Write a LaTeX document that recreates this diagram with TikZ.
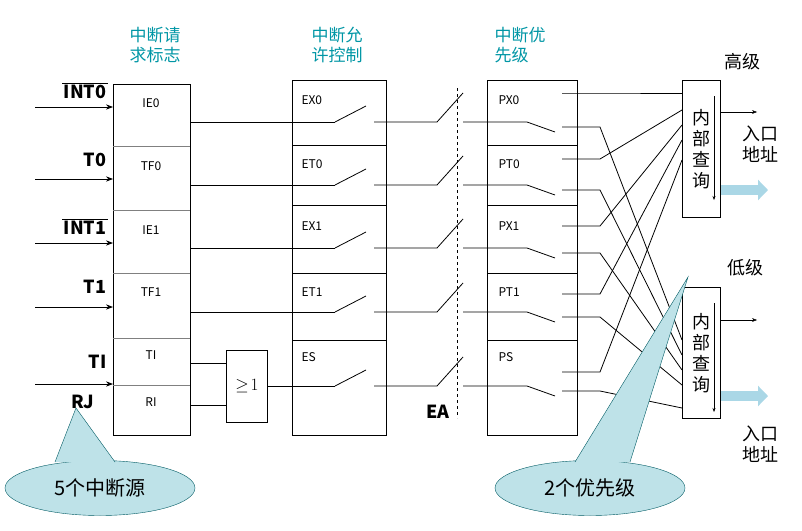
\documentclass[tikz,border=0pt]{standalone}
\usepackage{fontspec}
\setmainfont{Noto Sans CJK SC}
\usetikzlibrary{shapes, arrows.meta, positioning, calc}
\definecolor{headteal}{RGB}{0, 150, 165}
\definecolor{calloutblue}{RGB}{190, 226, 232}
\definecolor{fatblue}{RGB}{170, 215, 230}
\begin{document}
\begin{tikzpicture}[x=1pt, y=-1pt,
    reg/.style={rectangle, draw, thick, anchor=north west, inner sep=0pt},
    field/.style={font=\fontsize{12}{13}\selectfont},
    head/.style={font=\fontsize{17}{20}\selectfont, text=headteal, align=left},
    src/.style={font=\fontsize{18}{18}\selectfont\bfseries},
    wire/.style={line width=0.8pt},
    inarrow/.style={-{Stealth[length=7pt]}, thick},
    fat/.style={-{Triangle[width=20pt, length=10pt]}, line width=10pt, fatblue},
    callout/.style={ellipse, draw=headteal!60!black, fill=calloutblue, minimum width=190pt, minimum height=55pt, font=\fontsize{20}{22}\selectfont}
]
    \useasboundingbox (0,0) rectangle (802,530);

    % headings
    \node[head] (h1) at (155,45) {中断请\\求标志};
    \node[head] (h2) at (337,45) {中断允\\许控制};
    \node[head] (h3) at (520,45) {中断优\\先级};

    % request flag register
    \node[reg, minimum width=77pt, minimum height=351pt] (flag) at (113,84) {};
    \foreach \y in {146,210,273,338,385} \draw[gray] (113,\y) -- (190,\y);
    \foreach \t/\y in {IE0/103,TF0/166,IE1/230,TF1/292,TI/355,RI/402}
        \node[field] at (151,\y) {\t};

    % interrupt sources
    \foreach \n/\t/\y/\ly in {s1/INT0/107/92,s2/T0/179/160,s3/INT1/243/228,s4/T1/307/287,s5/TI/384/362} {
        \coordinate (\n) at (35,\y);
        \draw[inarrow] (\n) -- (flag.west |- \n);
        \node[src, anchor=east] (\n lbl) at (110,\ly) {\t};
    }
    \draw[thick] ([xshift=2pt, yshift=-2pt]s1lbl.north west) -- ([xshift=-2pt, yshift=-2pt]s1lbl.north east);
    \draw[thick] ([xshift=2pt, yshift=-2pt]s3lbl.north west) -- ([xshift=-2pt, yshift=-2pt]s3lbl.north east);
    \node[src, anchor=east] at (98,402) {RJ};

    % OR gate
    \node[reg, minimum width=41pt, minimum height=72pt, font=\fontsize{16}{16}\selectfont, anchor=center] (orgate) at (247,386) {$\geq\!1$};
    \draw[wire] (190,363) -- (orgate.west |- 0,363);
    \draw[wire] (190,405) -- (orgate.west |- 0,405);

    % enable register
    \node[reg, minimum width=94pt, minimum height=355pt] (enable) at (292,80) {};
    \foreach \y in {145,205,273,340} \draw (292,\y) -- (386,\y);
    \foreach \t/\y in {EX0/100,ET0/164,EX1/226,ET1/292,ES/357}
        \node[field, anchor=west] at (298,\y) {\t};

    % priority register
    \node[reg, minimum width=90pt, minimum height=355pt] (prio) at (487,80) {};
    \foreach \y in {145,205,273,340} \draw (487,\y) -- (577,\y);
    \foreach \t/\y in {PX0/100,PT0/164,PX1/226,PT1/292,PS/357}
        \node[field, anchor=west] at (495,\y) {\t};

    % EA
    \draw[dashed] (457,88) -- (457,418);
    \node[src] (ea) at (438,412) {EA};

    % query boxes
    \node[reg, minimum width=38pt, minimum height=137pt, align=center, font=\fontsize{18}{21}\selectfont] (hiq) at (682,80) {内\\部\\查\\询};
    \node[reg, minimum width=38pt, minimum height=131pt, align=center, font=\fontsize{18}{21}\selectfont] (loq) at (682,287) {内\\部\\查\\询};
    \draw[-{Stealth[length=4pt]}] (714,96) -- (714,200);
    \draw[-{Stealth[length=4pt]}] (714,303) -- (714,412);
    \coordinate (hiout) at (757,112);
    \coordinate (loout) at (757,320);
    \draw[-{Stealth[length=5pt]}] (hiq.east |- hiout) -- (hiout);
    \draw[-{Stealth[length=5pt]}] (loq.east |- loout) -- (loout);
    \coordinate (hifat) at (768,190);
    \coordinate (lofat) at (768,396);
    \draw[fat] (hiq.east |- hifat) -- (hifat);
    \draw[fat] (loq.east |- lofat) -- (lofat);
    \node[font=\fontsize{18}{20}\selectfont] at (742,62) {高级};
    \node[font=\fontsize{18}{20}\selectfont] at (745,268) {低级};
    \node[font=\fontsize{18}{21}\selectfont, align=center] at (760,144) {入口\\地址};
    \node[font=\fontsize{18}{21}\selectfont, align=center] at (760,444) {入口\\地址};

    % signal paths with switches
    \foreach \r/\h/\hy/\ly in {122/93/93/340,185/159/110/355,248/226/125/370,312/294/140/385,386/372/160/408} {
        \draw[wire] (335,\r) -- (366,\r-16);
        \draw[wire] (374,\r) -- (437,\r) -- (463,\r-29);
        \draw[wire] (463,\r) -- (527,\r) -- (555,\r+10);
        \draw[wire] (562,\h) -- (600,\h) -- (hiq.west |- 0,\hy);
        \draw[wire] (562,\r+5) -- (600,\r+5) -- (loq.west |- 0,\ly);
    }
    \foreach \r in {122,185,248,312} \draw[wire] (190,\r) -- (335,\r);
    \draw[wire] (orgate.east) -- (335,386);

    % callouts
    \node[callout] (c1) at (100,488) {5个中断源};
    \node[callout] (c2) at (590,488) {2个优先级};
    \fill[calloutblue] (55,462) -- (76,408) -- (115,462) -- cycle;
    \draw[headteal!60!black] (55,462) -- (76,408) -- (115,462);
    \fill[calloutblue] (575,462) -- (688,277) -- (630,462) -- cycle;
    \draw[headteal!60!black] (575,462) -- (688,277) -- (630,462);
\end{tikzpicture}
\end{document}
